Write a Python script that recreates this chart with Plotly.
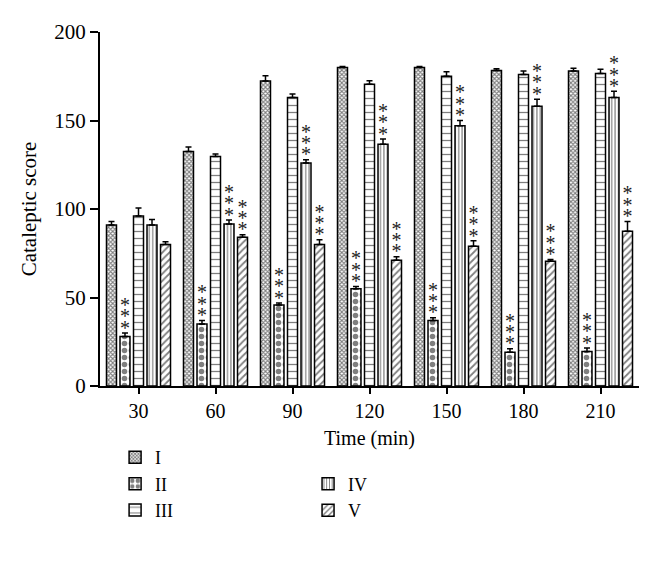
import plotly.graph_objects as go

times = ["30", "60", "90", "120", "150", "180", "210"]
groups = ["I", "II", "III", "IV", "V"]

val_I = [91, 132.5, 172.3, 180, 180, 178.3, 178]
val_II = [28, 35, 45.7, 55, 37, 19, 19.5]
val_III = [96, 129.6, 163, 170.5, 175, 176, 176.5]
val_IV = [91, 91.5, 126, 136.6, 147, 158, 163]
val_V = [80, 84, 80, 71, 79, 70.5, 87.5]

err_I = [2, 2.5, 3, 0.5, 0.5, 1, 1.5]
err_II = [2, 2, 1.2, 1.2, 1.5, 2, 2]
err_III = [4.5, 1.5, 2, 2, 2.5, 2, 2.5]
err_IV = [3, 2.3, 1.8, 3, 3, 4, 3.5]
err_V = [1.5, 1.4, 2.6, 2, 3, 1, 5.5]

# significance markers (*** above bar) per group
sig_II = [1, 1, 1, 1, 1, 1, 1]
sig_IV = [0, 1, 1, 1, 1, 1, 1]
sig_V = [0, 1, 1, 1, 1, 1, 1]

values = [val_I, val_II, val_III, val_IV, val_V]
errors = [err_I, err_II, err_III, err_IV, err_V]
sigs = [None, sig_II, None, sig_IV, sig_V]

patterns = [
    dict(shape="x", size=3, solidity=0.6, fgcolor="black", bgcolor="white"),
    dict(shape=".", size=7, solidity=0.5, fgcolor="black", bgcolor="white"),
    dict(shape="-", size=7, solidity=0.18, fgcolor="black", bgcolor="white"),
    dict(shape="|", size=3.4, solidity=0.35, fgcolor="black", bgcolor="white"),
    dict(shape="/", size=5, solidity=0.35, fgcolor="black", bgcolor="white"),
]
legends = ["legend", "legend", "legend", "legend2", "legend2"]

FONT = "Liberation Serif"
xs = list(range(len(times)))
bargap = 0.123
pitch = (1 - bargap) / len(groups)

fig = go.Figure()
for k, g in enumerate(groups):
    fig.add_trace(go.Bar(
        name=g, x=xs, y=values[k],
        marker=dict(color="white", line=dict(color="black", width=1.5), pattern=patterns[k]),
        error_y=dict(type="data", array=errors[k], arrayminus=[0] * len(times), symmetric=False,
                     color="black", thickness=1.5, width=3),
        legend=legends[k],
    ))

star_x, star_y = [], []
for k, s in enumerate(sigs):
    if s is None:
        continue
    for i, flag in enumerate(s):
        if not flag:
            continue
        top = values[k][i] + errors[k][i]
        for j in range(3):
            star_x.append(i + (k - 2) * pitch)
            star_y.append(top + 3.9 + j * 6.45 - 2.0)

fig.add_trace(go.Scatter(
    x=star_x, y=star_y, mode="text", text=["*"] * len(star_x),
    textposition="middle center", textfont=dict(family=FONT, size=20, color="#222222"),
    showlegend=False, hoverinfo="skip", cliponaxis=False,
))

fig.update_layout(
    width=646, height=557,
    margin=dict(l=92, r=15, t=15, b=179),
    paper_bgcolor="white", plot_bgcolor="white",
    barmode="group", bargap=bargap, bargroupgap=0.26,
    font=dict(family=FONT, size=20, color="black"),
    legend=dict(x=0.028, y=-0.15, xanchor="left", yanchor="top", orientation="v",
                font=dict(family=FONT, size=18), tracegroupgap=0, bgcolor="rgba(0,0,0,0)"),
    legend2=dict(x=0.386, y=-0.225, xanchor="left", yanchor="top", orientation="v",
                 font=dict(family=FONT, size=18), tracegroupgap=0, bgcolor="rgba(0,0,0,0)"),
)
fig.update_xaxes(
    range=[-0.5, 6.5], tickmode="array", tickvals=xs, ticktext=times,
    showline=True, linecolor="black", linewidth=2, ticks="outside", ticklen=6, tickwidth=1.5,
    tickcolor="black", showgrid=False, zeroline=False,
    title=dict(text="Time (min)", font=dict(family=FONT, size=20), standoff=10),
    tickfont=dict(family=FONT, size=20),
)
fig.update_yaxes(
    range=[0, 200], tickvals=[0, 50, 100, 150, 200],
    showline=True, linecolor="black", linewidth=2, ticks="outside", ticklen=8, tickwidth=1.5,
    tickcolor="black", showgrid=False, zeroline=False,
    title=dict(text="Cataleptic score", font=dict(family=FONT, size=21), standoff=12),
    tickfont=dict(family=FONT, size=21),
)

fig.write_html("out.html")
